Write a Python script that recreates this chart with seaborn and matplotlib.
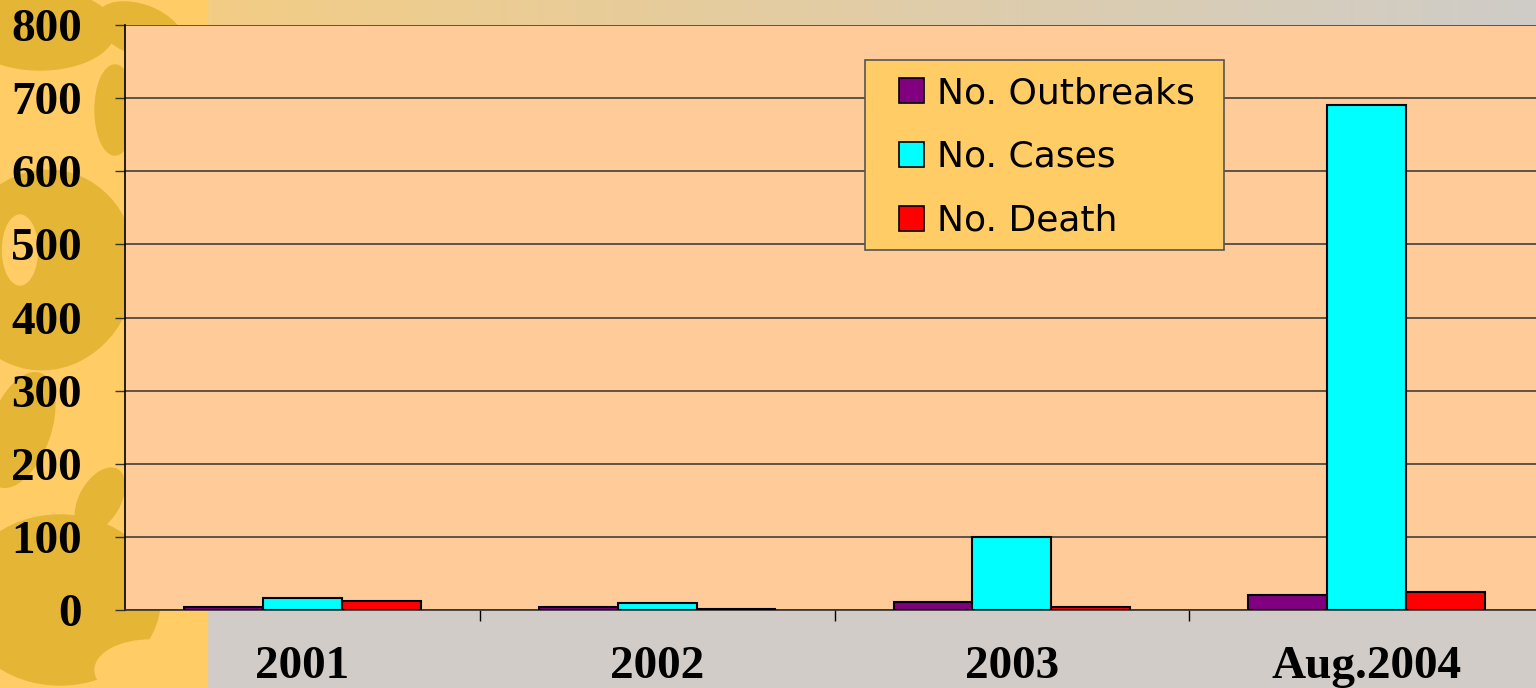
import numpy as np
import pandas as pd
import seaborn as sb
import matplotlib
import matplotlib.pyplot as plt
from matplotlib.patches import Rectangle, Ellipse
matplotlib.use('agg')

# values
years = ["2001", "2002", "2003", "Aug.2004"]
outbreaks = [4, 4, 11, 20]
cases = [17, 10, 100, 690]
deaths = [12, 1, 4, 24]
seriesNames = ["No. Outbreaks", "No. Cases", "No. Death"]
seriesColors = ["#800080", "#00FFFF", "#FF0000"]
yTicks = [0, 100, 200, 300, 400, 500, 600, 700, 800]

sb.set_theme(style="white")
plt.rcParams['font.family'] = ['DejaVu Sans']
plt.rcParams['text.color'] = 'black'

frame = pd.DataFrame({
    "year": years * 3,
    "value": outbreaks + cases + deaths,
    "series": [seriesNames[0]] * 4 + [seriesNames[1]] * 4 + [seriesNames[2]] * 4,
})

W, H = 1536, 688
fig = plt.figure(figsize=(W / 100, H / 100), dpi=100)

# slide background: yellow pattern on the left, gradient on top, grey at the bottom
bg = fig.add_axes([0, 0, 1, 1], zorder=-10)
bg.set_xlim(0, W)
bg.set_ylim(H, 0)
bg.axis('off')
grad = np.linspace(0, 1, 256)
c1 = np.array([0xF3, 0xCD, 0x85]) / 255
c2 = np.array([0xCF, 0xCC, 0xC8]) / 255
img = (c1[None, :] * (1 - grad[:, None]) + c2[None, :] * grad[:, None])[None, :, :]
bg.imshow(img, extent=(207, W, 40, 0), aspect='auto', zorder=0)
bg.add_patch(Rectangle((207, 560), W - 207, H - 560, color="#D1CCC7", zorder=1))
bg.add_patch(Rectangle((0, 0), 207, H, color="#FFCC66", zorder=1))
darkGold = "#E5B535"
blobs = [(40, 30, 150, 80, 0), (115, 110, 40, 90, 0), (45, 270, 180, 200, 10),
         (-10, 230, 60, 60, 0), (20, 430, 60, 120, 20), (60, 600, 200, 170, 0),
         (140, 30, 90, 50, 20), (100, 500, 40, 70, 30)]
for x, y, w, h, a in blobs:
    bg.add_patch(Ellipse((x, y), w, h, angle=a, color=darkGold, zorder=2))
bg.add_patch(Ellipse((20, 250), 35, 70, color="#FFCC66", zorder=3))
bg.add_patch(Ellipse((150, 670), 110, 60, color="#FFCC66", zorder=3))
bg.add_patch(Ellipse((10, 110), 50, 80, color="#FFCC66", zorder=3))

ax = fig.add_axes([125 / W, 1 - 610 / H, 1419 / W, 585 / H])
ax.set_facecolor("#FFCC99")
sb.barplot(data=frame, x="year", y="value", hue="series", order=years, hue_order=seriesNames,
           palette=seriesColors, width=0.667, edgecolor="black", linewidth=1.5,
           saturation=1, ax=ax, zorder=3)

ax.set_xlim(-0.5, 3.5)
ax.set_ylim(0, 800)
ax.set_yticks(yTicks)
ax.yaxis.grid(True, color="#333333", linewidth=1.1)
ax.set_axisbelow(True)
ax.set_xlabel("")
ax.set_ylabel("")

for side in ["top", "right"]:
    ax.spines[side].set_visible(False)
ax.spines["left"].set_color("black")
ax.spines["left"].set_linewidth(1.2)
ax.spines["bottom"].set_color("#333333")
ax.spines["bottom"].set_linewidth(1.2)

ax.tick_params(axis='y', direction='out', length=7, width=1, color="#333333", left=True,
               labelsize=34, pad=24)
ax.tick_params(axis='x', which='major', length=0, labelsize=34, pad=26)
ax.set_xticks([0.5, 1.5, 2.5], minor=True)
ax.tick_params(axis='x', which='minor', direction='out', length=8, width=1, color="black", bottom=True)
for lbl in ax.get_yticklabels() + ax.get_xticklabels():
    lbl.set_fontfamily("Liberation Serif")
    lbl.set_fontweight("bold")
    lbl.set_color("black")

# legend box drawn separately so its size matches the reference
ax.add_patch(Rectangle((865 / W, 1 - 250 / H), 359 / W, 190 / H, transform=fig.transFigure,
                       facecolor="#FFCC66", edgecolor="#555555", linewidth=1.2,
                       zorder=6, clip_on=False))
leg = ax.legend(loc="upper left", bbox_to_anchor=(899 / W, 1 - 76 / H), bbox_transform=fig.transFigure,
                fontsize=26, frameon=False, borderpad=0, labelspacing=0.83,
                handlelength=0.7, handleheight=0.7, handletextpad=0.35, borderaxespad=0)
leg.set_zorder(7)
for t in leg.get_texts():
    t.set_color("black")
for h in leg.legend_handles:
    h.set_edgecolor("black")
    h.set_linewidth(1.2)

plt.savefig("out.png", dpi=100)
plt.close()
